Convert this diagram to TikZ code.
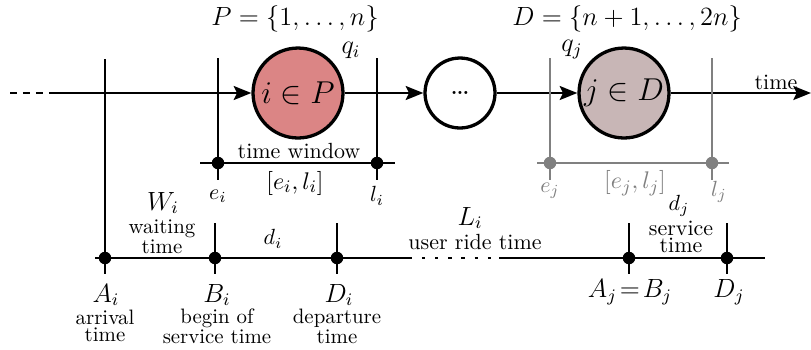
\documentclass[tikz,border=0pt]{standalone}
\usetikzlibrary{arrows.meta}
\definecolor{pcol}{RGB}{219,133,133}
\definecolor{dcol}{RGB}{200,182,182}
\definecolor{gline}{RGB}{128,128,128}
\begin{document}
\begin{tikzpicture}[x=0.016cm,y=-0.016cm,line width=1.35pt,
  stopnode/.style={circle,draw,line width=1.5pt,minimum size=1.44cm,inner sep=0pt,font=\Large},
  smallstop/.style={circle,draw,line width=1.5pt,minimum size=1.12cm,inner sep=0pt},
  pt/.style={circle,fill,inner sep=0pt,minimum size=0.2cm},
  lbl/.style={inner sep=0pt,align=center},
  two/.style={lbl,font=\fontsize{9.5}{8}\selectfont},
  arr/.style={-{Stealth[length=2.8mm,width=2.2mm,inset=0.5mm]}}]
\useasboundingbox (0,0) rectangle (811,349);
% main line
\coordinate (m0) at (10,93);
\coordinate (m1) at (50,93);
\coordinate (mend) at (811,93);
\node[stopnode,fill=pcol] (ni) at (298,93) {$i\in P$};
\node[smallstop,font=\Large] (nd) at (460,93) {\dots};
\node[stopnode,fill=dcol] (nj) at (624,93) {$j\in D$};
\draw[dash pattern=on 3.3pt off 2.6pt] (m0) -- (m1);
\draw[arr] (m1) -- (ni);
\draw[arr] (ni) -- (nd);
\draw[arr] (nd) -- (nj);
\draw[arr] (nj) -- (mend);
\node[lbl] (ttime) at (776,82) {time};
% set labels
\node[lbl,font=\fontsize{12.9}{15}\selectfont] (lP) at (295,19) {$P=\{1,\dots,n\}$};
\node[lbl,font=\fontsize{12.9}{15}\selectfont] (lD) at (627,19) {$D=\{n+1,\dots,2n\}$};
\node[lbl,font=\large] (lqi) at (351,50) {$q_i$};
\node[lbl,font=\large] (lqj) at (572,50) {$q_j$};
% vertical lines, black
\coordinate (vA1) at (105,59);
\coordinate (vA2) at (105,274);
\draw (vA1) -- (vA2);
\coordinate (ve1) at (218,58);
\coordinate (ve2) at (218,180);
\draw (ve1) -- (ve2);
\coordinate (vl1) at (377,58);
\coordinate (vl2) at (377,180);
\draw (vl1) -- (vl2);
% time window i
\coordinate (tw1) at (200,163);
\coordinate (tw2) at (395,163);
\draw (tw1) -- (tw2);
\node[pt] (pei) at (218,163) {};
\node[pt] (pli) at (377,163) {};
\node[lbl] (ltw) at (299,151) {time window};
\node[lbl,font=\fontsize{11}{13}\selectfont] (lwi) at (295,183) {$[e_i,l_i]$};
\node[lbl] (lei) at (218,196) {$e_i$};
\node[lbl] (lli) at (377,196) {$l_i$};
% gray time window j
\coordinate (gv11) at (550,58);
\coordinate (gv12) at (550,180);
\coordinate (gv21) at (712,58);
\coordinate (gv22) at (712,180);
\coordinate (gw1) at (537,163);
\coordinate (gw2) at (729,163);
\begin{scope}[gline]
\draw (gv11) -- (gv12);
\draw (gv21) -- (gv22);
\draw (gw1) -- (gw2);
\node[pt,fill=gline] (pej) at (550,163) {};
\node[pt,fill=gline] (plj) at (712,163) {};
\node[lbl,text=gline,font=\fontsize{11}{13}\selectfont] (lwj) at (635,183) {$[e_j,l_j]$};
\node[lbl,text=gline] (lej) at (550,191) {$e_j$};
\node[lbl,text=gline] (llj) at (719,192) {$l_j$};
\end{scope}
% bottom line
\coordinate (b0) at (95,258);
\coordinate (b1) at (412,258);
\coordinate (b2) at (499,258);
\coordinate (b3) at (765,258);
\draw (b0) -- (b1);
\draw[dash pattern=on 1.5pt off 4.5pt,dash phase=1.5pt] (b1) -- (b2);
\draw (b2) -- (b3);
% ticks
\coordinate (tB1) at (215,223);
\coordinate (tB2) at (215,274);
\draw (tB1) -- (tB2);
\coordinate (tD1) at (337,223);
\coordinate (tD2) at (337,274);
\draw (tD1) -- (tD2);
\coordinate (tAj1) at (629,223);
\coordinate (tAj2) at (629,274);
\draw (tAj1) -- (tAj2);
\coordinate (tDj1) at (727,223);
\coordinate (tDj2) at (727,274);
\draw (tDj1) -- (tDj2);
\node[pt] (pAi) at (105,258) {};
\node[pt] (pBi) at (215,258) {};
\node[pt] (pDi) at (337,258) {};
\node[pt] (pAj) at (629,258) {};
\node[pt] (pDj) at (727,258) {};
% bottom labels
\node[lbl,font=\large] (lAi) at (106,295) {$A_i$};
\node[two] (tAi) at (105,326) {arrival\\time};
\node[lbl,font=\large] (lBi) at (217,295) {$B_i$};
\node[two] (tBi) at (217,326) {begin of\\service time};
\node[lbl,font=\large] (lDi) at (339,295) {$D_i$};
\node[two] (tDi) at (337,326) {departure\\time};
\node[lbl,font=\large] (lAj) at (630,292) {$A_j\!=\!B_j$};
\node[lbl,font=\large] (lDj) at (729,292) {$D_j$};
% middle labels
\node[lbl,font=\large] (lWi) at (163,203) {$W_i$};
\node[two] (tWi) at (162,237) {waiting\\time};
\node[lbl] (ldi) at (273,239) {$d_i$};
\node[lbl,font=\large] (lLi) at (470,218) {$L_i$};
\node[lbl] (tLi) at (475,242) {user ride time};
\node[lbl] (ldj) at (679,206) {$d_j$};
\node[two,font=\fontsize{10}{8}\selectfont] (tdj) at (681,237) {service\\time};
\end{tikzpicture}
\end{document}
